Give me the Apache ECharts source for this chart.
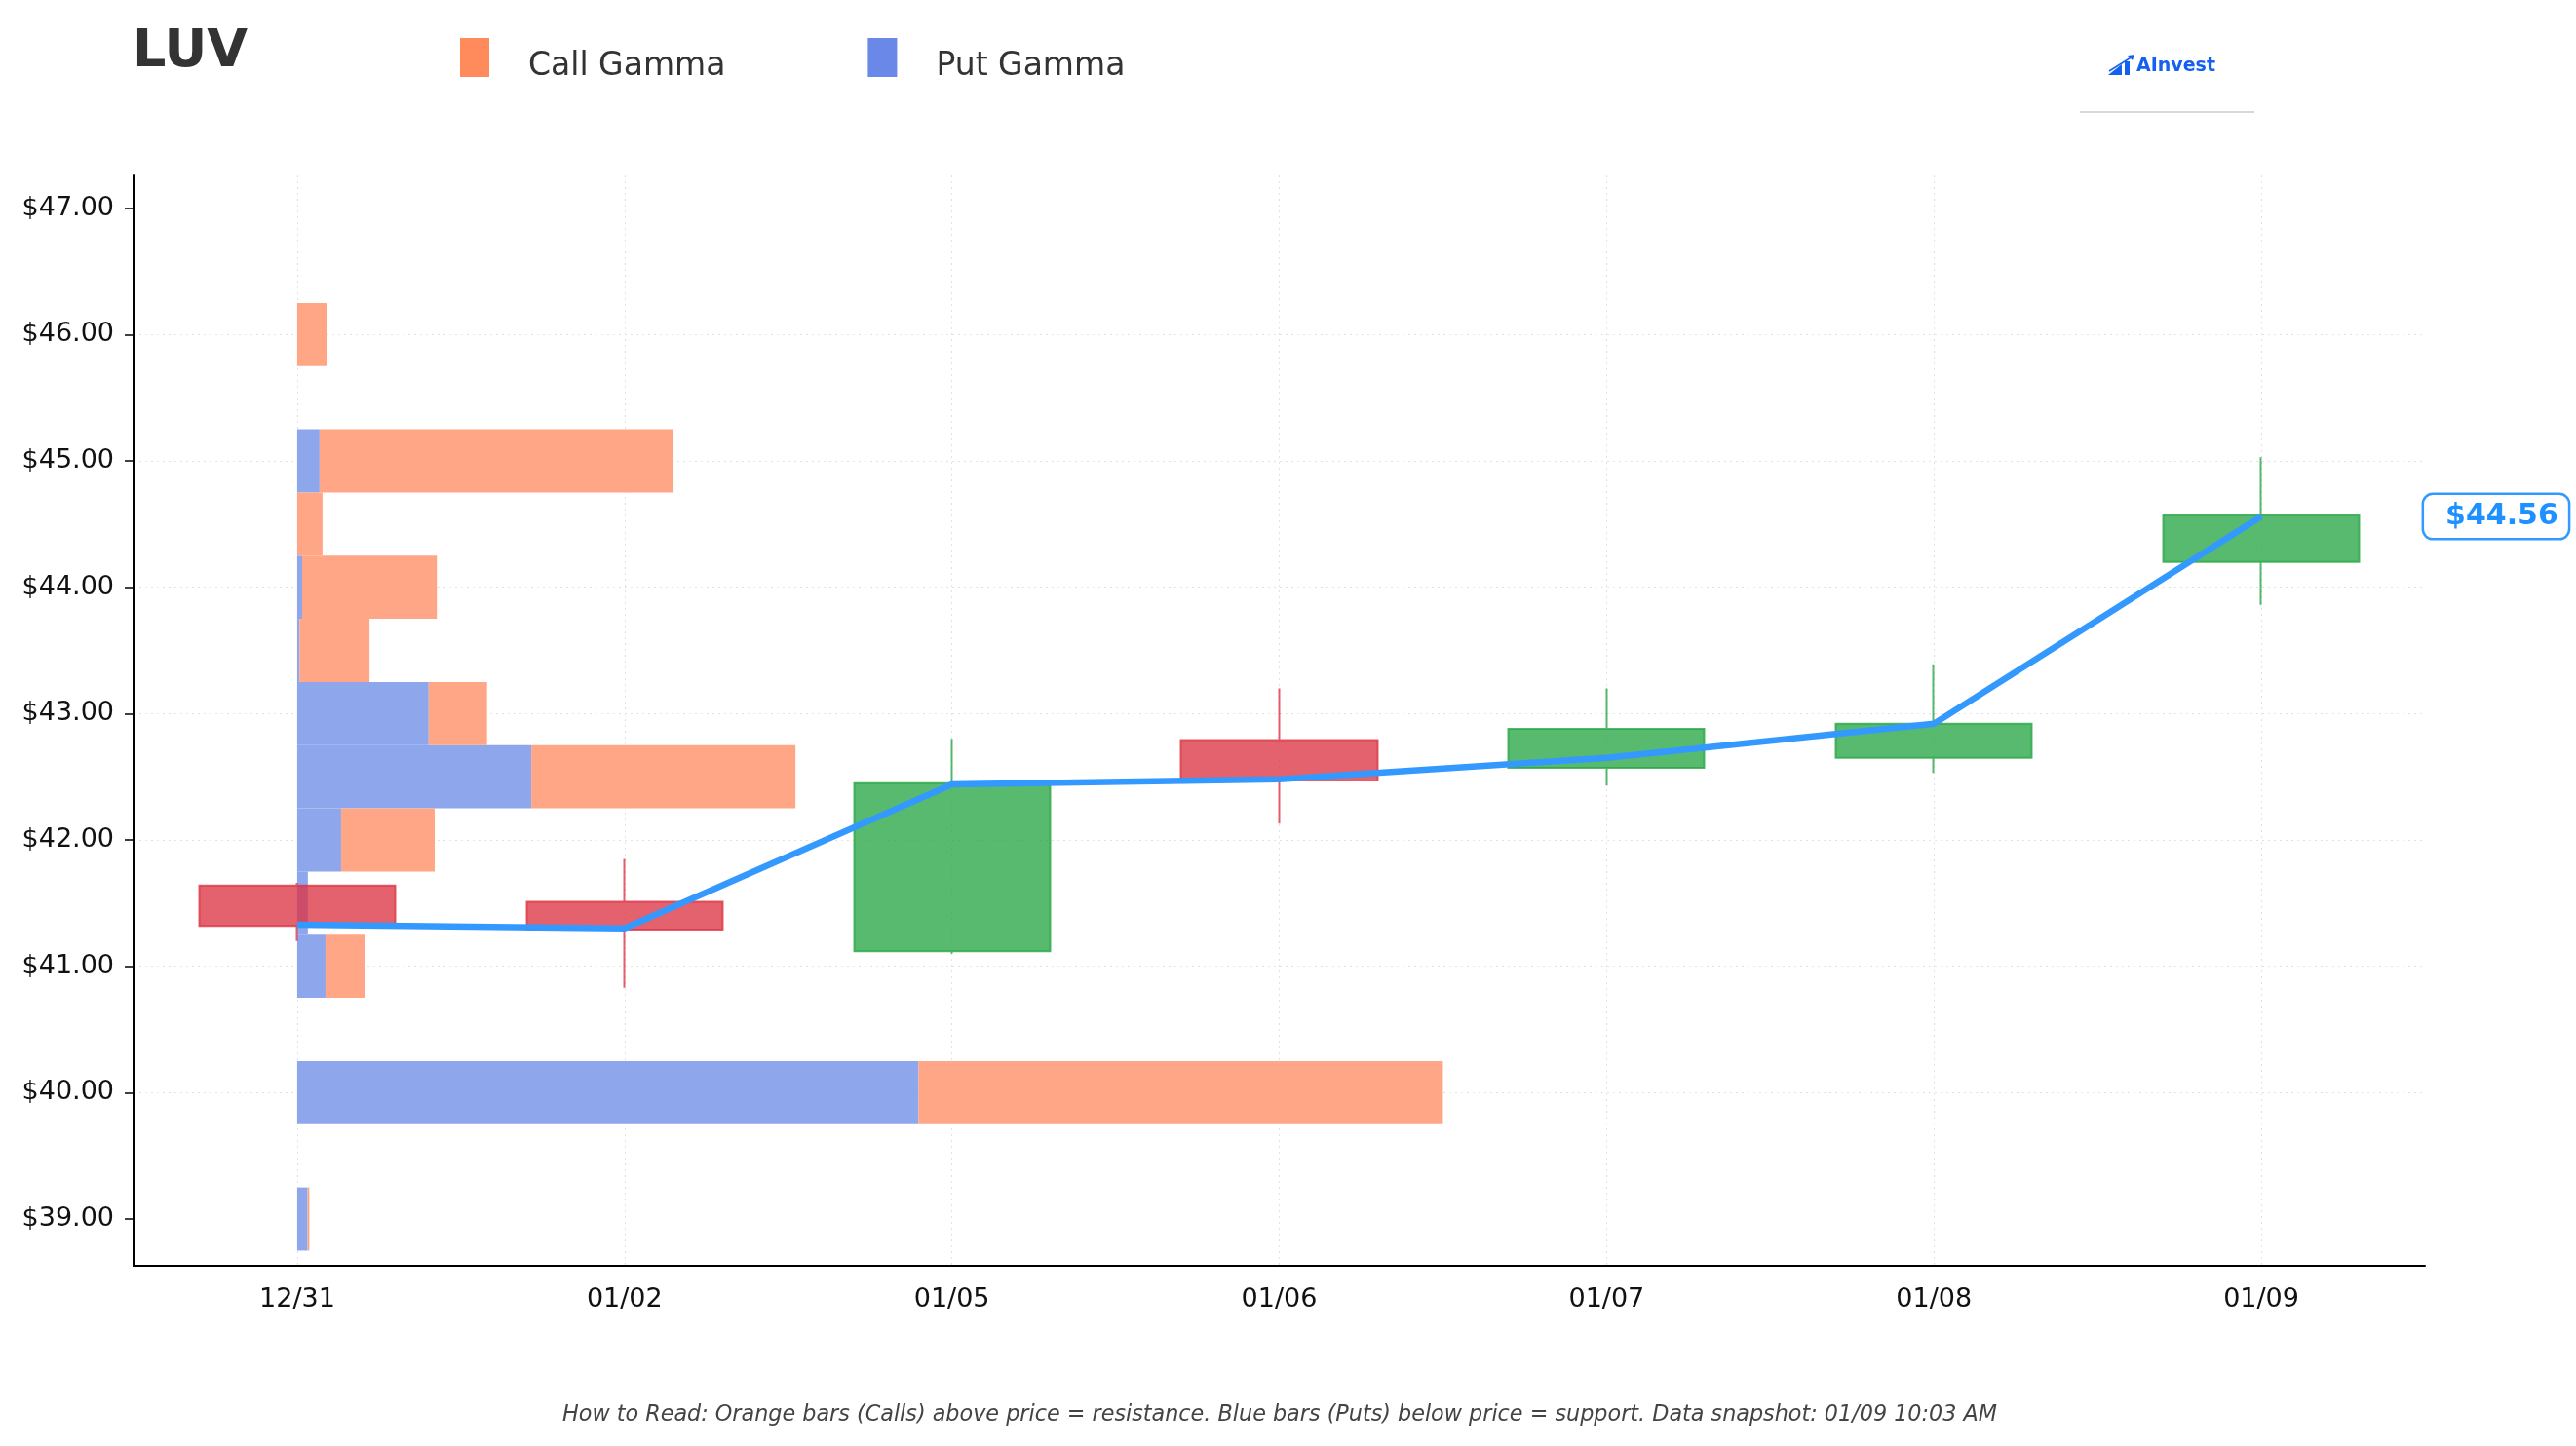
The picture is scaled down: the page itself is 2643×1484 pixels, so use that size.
<!DOCTYPE html>
<html>
<head>
<meta charset="utf-8">
<script src="https://cdn.jsdelivr.net/npm/echarts@6/dist/echarts.min.js"></script>
<style>
  html, body { margin: 0; padding: 0; background: #fff; }
  #chart { width: 2643px; height: 1484px; }
</style>
</head>
<body>
<div id="chart"></div>
<script>
// dates on the x axis
const categories = ['12/31', '01/02', '01/05', '01/06', '01/07', '01/08', '01/09'];

// candles: [open, close, low, high]
const candles = [
  [41.64, 41.32, 41.20, 41.66],
  [41.51, 41.29, 40.83, 41.85],
  [41.12, 42.45, 41.10, 42.80],
  [42.79, 42.47, 42.13, 43.20],
  [42.57, 42.88, 42.43, 43.20],
  [42.65, 42.92, 42.53, 43.39],
  [44.20, 44.57, 43.86, 45.03]
];

// price line
const closes = [41.33, 41.30, 42.44, 42.48, 42.65, 42.92, 44.56];

// gamma by strike (relative units)
const strikes   = [46.0, 45.0, 44.5, 44.0, 43.5, 43.0, 42.5, 42.0, 41.5, 41.0, 40.0, 39.0];
const putGamma  = [0,    1.95, 0,    0.43, 0.20, 11.47, 20.43, 3.83, 0.93, 2.47, 54.23, 0.90];
const callGamma = [2.64, 30.9, 2.21, 11.76, 6.11, 5.10, 23.06, 8.17, 0,   3.44, 45.77, 0.16];

const yTicks = [39, 40, 41, 42, 43, 44, 45, 46, 47];

const FONT = 'DejaVu Sans';
const maxTotal = Math.max(...putGamma.map((p, i) => p + callGamma[i]));
const BAR_SPAN = 3.5;      // longest gamma bar, in date bands
const HALF = 0.25;         // half strike step

function gammaRender(color) {
  return function (params, api) {
    const y = api.value(1);
    const len = api.value(2);
    const start = api.value(3);
    const top = api.coord([api.value(0), y + HALF]);
    const bot = api.coord([api.value(0), y - HALF]);
    const k = api.size([1, 0])[0] * BAR_SPAN / maxTotal;
    return {
      type: 'rect',
      shape: { x: top[0] + start * k, y: top[1], width: len * k, height: bot[1] - top[1] },
      style: { fill: color }
    };
  };
}

const chart = echarts.init(document.getElementById('chart'), null, { renderer: 'canvas' });

chart.setOption({
  animation: false,
  backgroundColor: '#ffffff',
  title: {
    text: 'LUV',
    left: 131,
    top: 22,
    textStyle: { fontFamily: FONT, fontSize: 54, fontWeight: 'bold', color: '#333333' }
  },
  legend: {
    left: 467,
    top: 34,
    icon: 'rect',
    itemWidth: 30,
    itemHeight: 40,
    itemGap: 146,
    data: [
      { name: 'Call Gamma', itemStyle: { color: '#FF8A5C' } },
      { name: 'Put Gamma', itemStyle: { color: '#6A88E8' } }
    ],
    formatter: name => '{t|' + name + '}',
    textStyle: {
      padding: [0, 0, 0, 35],
      rich: {
        t: { fontFamily: FONT, fontSize: 33, color: '#333333', padding: [18, 0, 0, 0] }
      }
    }
  },
  grid: { left: 137, right: 155, top: 180, bottom: 185 },
  xAxis: {
    type: 'category',
    data: categories,
    boundaryGap: true,
    axisLine: { lineStyle: { color: '#000', width: 2 } },
    axisTick: { alignWithLabel: true, length: 9, lineStyle: { color: '#000', width: 1.5 } },
    axisLabel: { fontFamily: FONT, fontSize: 27, color: '#111', margin: 21 },
    splitLine: { show: true, alignWithLabel: true, lineStyle: { color: '#e2e2e2', type: [2, 4], width: 1 } }
  },
  yAxis: {
    type: 'value',
    min: 38.63,
    max: 47.26,
    minInterval: 1,
    maxInterval: 1,
    axisLine: { show: true, lineStyle: { color: '#000', width: 2 } },
    axisTick: { show: true, length: 9, customValues: yTicks, lineStyle: { color: '#000', width: 1.5 } },
    axisLabel: {
      fontFamily: FONT, fontSize: 27, color: '#111', margin: 20,
      customValues: yTicks,
      formatter: v => '$' + v.toFixed(2)
    },
    splitLine: { show: true, showMinLine: false, showMaxLine: false, lineStyle: { color: '#e2e2e2', type: [2, 4], width: 1 } }
  },
  series: [
    {
      name: 'Put Gamma',
      type: 'custom',
      z: 1,
      itemStyle: { color: '#6A88E8' },
      encode: { x: 0, y: 1 },
      data: strikes.map((s, i) => [categories[0], s, putGamma[i], 0]),
      renderItem: gammaRender('#8DA6EC')
    },
    {
      name: 'Call Gamma',
      type: 'custom',
      z: 1,
      itemStyle: { color: '#FF8A5C' },
      encode: { x: 0, y: 1 },
      data: strikes.map((s, i) => [categories[0], s, callGamma[i], putGamma[i]]),
      renderItem: gammaRender('#FFA686')
    },
    {
      name: 'Price',
      type: 'candlestick',
      z: 3,
      barWidth: '60%',
      data: candles,
      itemStyle: {
        color: 'rgba(40,167,69,0.78)',
        color0: 'rgba(220,53,69,0.78)',
        borderColor: 'rgba(40,167,69,0.8)',
        borderColor0: 'rgba(220,53,69,0.8)',
        borderWidth: 2
      }
    },
    {
      name: 'Close',
      type: 'line',
      z: 4,
      data: closes,
      symbol: 'none',
      lineStyle: { color: '#3399FF', width: 6.5 },
      endLabel: {
        show: true,
        distance: 167,
        formatter: p => '$' + p.value.toFixed(2),
        fontFamily: FONT,
        fontSize: 30,
        fontWeight: 'bold',
        color: '#1E90FF',
        backgroundColor: '#ffffff',
        borderColor: '#3399FF',
        borderWidth: 2.5,
        borderRadius: 9,
        padding: [8, 10, 6, 22]
      }
    }
  ],
  graphic: [
    // logo
    { type: 'polygon', shape: { points: [[2163, 77], [2177, 66], [2177, 77]] }, style: { fill: '#1660F0' } },
    { type: 'rect', shape: { x: 2180, y: 63, width: 5, height: 14 }, style: { fill: '#1660F0' } },
    { type: 'line', shape: { x1: 2164, y1: 73, x2: 2188, y2: 58 }, style: { stroke: '#1660F0', lineWidth: 1.5 } },
    { type: 'polygon', shape: { points: [[2190, 56], [2183, 57], [2188, 62]] }, style: { fill: '#1660F0' } },
    {
      type: 'text', left: 2192, top: 59,
      style: { text: 'AInvest', font: 'bold 19px "DejaVu Sans"', fill: '#1660F0' }
    },
    { type: 'line', shape: { x1: 2134, y1: 115, x2: 2313, y2: 115 }, style: { stroke: '#cccccc', lineWidth: 1.5 } },
    // footnote
    {
      type: 'text',
      x: 1313, y: 1452,
      style: {
        text: 'How to Read: Orange bars (Calls) above price = resistance. Blue bars (Puts) below price = support. Data snapshot: 01/09 10:03 AM',
        font: 'italic 22.3px "DejaVu Sans"',
        fill: '#444444',
        align: 'center',
        verticalAlign: 'middle'
      }
    }
  ]
});
</script>
</body>
</html>
